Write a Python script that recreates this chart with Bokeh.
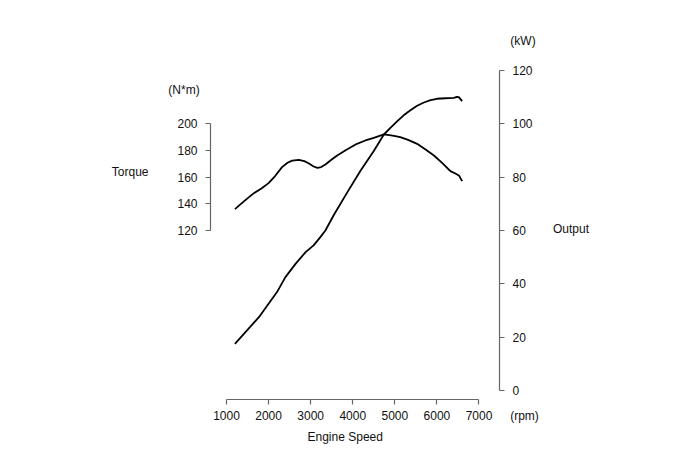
from bokeh.plotting import figure
from bokeh.models import Range1d, LinearAxis, FixedTicker, Label
from bokeh.embed import file_html
from bokeh.resources import INLINE

# Data
torque_rpm = [1200, 1420, 1650, 1830, 2000, 2160, 2320, 2450, 2560, 2720, 2850, 2950, 3070, 3160, 3250,
              3350, 3500, 3630, 3850, 4100, 4300, 4500, 4740, 4950, 5130, 5330, 5530, 5730, 5930, 6130,
              6320, 6450, 6530, 6600]
torque_nm = [136.0, 142.0, 148.0, 151.5, 155.5, 161.0, 167.5, 170.8, 172.4, 173.0, 172.0, 170.4, 168.0, 167.0, 167.6,
             169.5, 173.2, 176.2, 180.5, 185.0, 187.5, 189.5, 192.0, 191.2, 190.0, 187.8, 185.0, 180.8, 176.2, 170.5,
             164.5, 162.5, 161.0, 157.0]

output_rpm = [1200, 1450, 1770, 2000, 2200, 2400, 2640, 2880, 3070, 3230, 3350, 3550, 3870, 4180, 4500, 4740,
              4900, 5060, 5210, 5370, 5530, 5690, 5850, 6000, 6200, 6400, 6480, 6520, 6600]
output_kw = [17.5, 21.9, 27.5, 32.5, 36.9, 42.5, 47.5, 51.9, 54.4, 57.5, 60.0, 65.8, 74.3, 82.3, 89.8, 96.0,
             98.6, 101.0, 103.2, 105.1, 106.8, 108.0, 108.9, 109.4, 109.6, 109.7, 110.1, 110.0, 108.5]

rpm_ticks = [1000, 2000, 3000, 4000, 5000, 6000, 7000]
torque_ticks = [120, 140, 160, 180, 200]
kw_ticks = [0, 20, 40, 60, 80, 100, 120]

FONT = "Liberation Sans"
FS = "12px"
W, H = 672, 447

# pixel calibration of the reference
RPM_PER_PX = 23.763
NM_PER_PX = 0.74975
KW_PER_PX = 0.375


def rpm_at(px):
    return 1000 + (px - 226) * RPM_PER_PX


def nm_at(py):
    return 120 + (230 - py) * NM_PER_PX


def kw_at(py):
    return (390 - py) * KW_PER_PX


p = figure(width=W, height=H, output_backend="svg", toolbar_location=None,
           x_range=Range1d(rpm_at(0), rpm_at(W)), y_range=Range1d(nm_at(H), nm_at(0)),
           min_border=0, min_border_left=0, min_border_right=0, min_border_top=0, min_border_bottom=0,
           y_axis_location=None, x_axis_location=None)
p.extra_y_ranges = {"kw": Range1d(kw_at(H), kw_at(0))}
p.outline_line_color = None
p.xgrid.visible = False
p.ygrid.visible = False
p.background_fill_color = "white"
p.border_fill_color = "white"


def style(ax):
    ax.axis_line_color = "#666666"
    ax.axis_line_width = 1.2
    ax.major_tick_line_color = "#666666"
    ax.major_tick_line_width = 1.2
    ax.major_tick_in = 0
    ax.major_tick_out = 5
    ax.minor_tick_line_color = None
    ax.major_label_text_font = FONT
    ax.major_label_text_font_size = FS
    ax.major_label_text_color = "#111111"
    ax.major_label_standoff = 8


left = LinearAxis(ticker=FixedTicker(ticks=torque_ticks), bounds=(120, 200), fixed_location=rpm_at(210))
style(left)
p.add_layout(left, "left")

right = LinearAxis(y_range_name="kw", ticker=FixedTicker(ticks=kw_ticks), bounds=(0, 120),
                   fixed_location=rpm_at(499))
style(right)
p.add_layout(right, "right")

below = LinearAxis(ticker=FixedTicker(ticks=rpm_ticks), bounds=(1000, 7000), fixed_location=nm_at(399))
style(below)
below.major_label_standoff = 6
p.add_layout(below, "below")

p.line(torque_rpm, torque_nm, line_color="black", line_width=1.8, line_join="round")
p.line(output_rpm, output_kw, line_color="black", line_width=1.8, line_join="round", y_range_name="kw")

labels = [
    ("(N*m)", 183.5, 89),
    ("Torque", 129.7, 171.7),
    ("(kW)", 522.5, 40),
    ("Output", 570.5, 228.3),
    ("(rpm)", 524, 415),
    ("Engine Speed", 344.7, 436.7),
]
for txt, x, y in labels:
    p.add_layout(Label(x=rpm_at(x), y=nm_at(y), text=txt,
                       text_align="center", text_baseline="middle",
                       text_font=FONT, text_font_size=FS, text_color="#111111"))

open("out.html", "w").write(file_html(p, INLINE))
